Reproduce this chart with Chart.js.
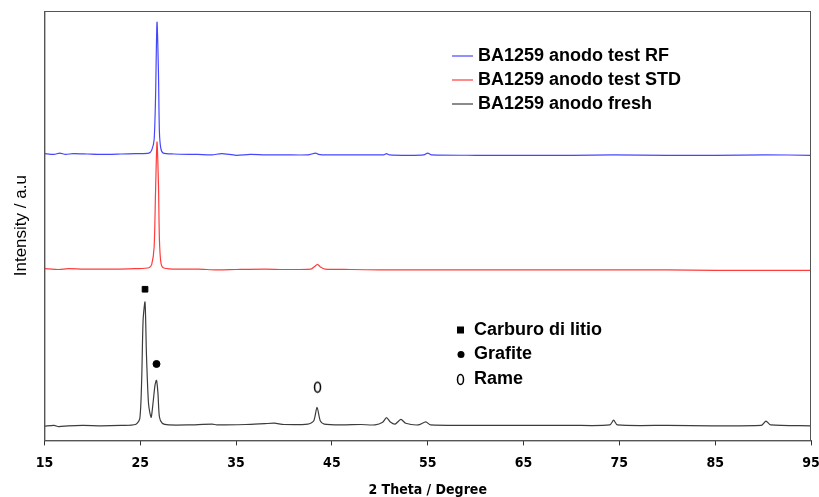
<!DOCTYPE html>
<html>
<head>
<meta charset="utf-8">
<script src="https://cdn.jsdelivr.net/npm/chart.js@4/dist/chart.umd.min.js"></script>
<style>
  body { margin: 0; background: #fff; }
  canvas { display: block; }
</style>
</head>
<body>
<canvas id="xrdChart" width="819" height="497"></canvas>
<script>
// 2 Theta positions and stacked intensities (a.u., curves offset as in the figure)
const rfTheta  = [15, 16, 16.6, 17.2, 18, 19.5, 21, 23, 24.5, 25.9, 26.2, 26.45, 26.6, 26.75, 26.9, 27.0, 27.15, 27.4, 28.5, 31, 32.5, 33.5, 35, 36.5, 38, 40, 42.5, 43.3, 43.6, 44, 46, 48, 50.4, 50.7, 51, 53, 54.6, 55, 55.4, 60, 65, 70, 74.4, 80, 85, 90.3, 95];
const rfInt    = [66.8, 66.6, 66.9, 66.6, 66.8, 66.7, 66.6, 66.7, 66.8, 66.9, 67.6, 70, 80, 97.4, 86, 72, 68, 66.9, 66.7, 66.6, 66.5, 66.8, 66.4, 66.6, 66.5, 66.5, 66.5, 66.9, 66.6, 66.5, 66.5, 66.5, 66.5, 66.8, 66.5, 66.4, 66.5, 66.9, 66.5, 66.4, 66.4, 66.4, 66.5, 66.4, 66.4, 66.5, 66.4];

const stdTheta = [15, 16.5, 17.5, 19, 21, 23, 24.5, 25.9, 26.2, 26.45, 26.6, 26.75, 26.9, 27.0, 27.15, 27.4, 28.5, 31, 33, 35, 38, 40, 42.8, 43.2, 43.5, 43.8, 44.3, 47, 50, 55, 60, 65, 70, 75, 80, 85, 90, 95];
const stdInt   = [40.0, 39.8, 40.0, 39.9, 39.9, 39.9, 40.0, 40.2, 41, 45, 58, 69.5, 60, 47, 41.5, 40.2, 39.9, 39.9, 39.7, 39.8, 39.9, 39.8, 39.9, 40.5, 41.0, 40.4, 39.9, 39.8, 39.7, 39.7, 39.7, 39.7, 39.7, 39.7, 39.7, 39.6, 39.6, 39.6];

const freshTheta = [15, 16, 16.5, 17.5, 19, 21, 23, 24.5, 24.95, 25.15, 25.3, 25.5, 25.65, 25.85, 26.0, 26.15, 26.35, 26.55, 26.7, 26.85, 27.0, 27.3, 28, 30, 32.5, 33, 36, 38, 39, 40, 42.5, 43.1, 43.45, 43.8, 44.2, 46, 48, 49.5, 50.3, 50.7, 51.1, 51.6, 52.2, 52.7, 54, 54.8, 55.3, 60, 70, 74.0, 74.4, 74.8, 80, 89.8, 90.3, 90.8, 95];
const freshInt   = [3.3, 3.5, 3.2, 3.4, 3.5, 3.4, 3.5, 3.7, 5, 14, 28, 32.2, 20, 9, 6.5, 5.4, 9, 13, 14, 11, 5.5, 4, 3.6, 3.6, 3.8, 3.6, 3.7, 3.9, 4.0, 3.7, 3.8, 4.5, 7.7, 4.5, 3.8, 3.6, 3.7, 3.6, 4.2, 5.3, 4.3, 3.8, 4.9, 4.0, 3.6, 4.3, 3.6, 3.5, 3.5, 3.6, 4.7, 3.6, 3.5, 3.5, 4.5, 3.6, 3.4];

// phase markers above the fresh-sample peaks
const carburoTheta = [25.5], carburoY = [35.2];
const grafiteTheta = [26.7], grafiteY = [17.8];
const rameTheta    = [43.5], rameY    = [12.4];

const xTicks = [15, 25, 35, 45, 55, 65, 75, 85, 95];
const seriesNames = ['BA1259 anodo test RF', 'BA1259 anodo test STD', 'BA1259 anodo fresh'];
const seriesColors = ['rgb(70,70,255)', 'rgb(255,60,60)', 'rgb(60,60,60)'];
const phaseNames = ['Carburo di litio', 'Grafite', 'Rame'];

const narrowBold = { family: '"DejaVu Sans Condensed", "Liberation Sans Narrow", sans-serif', size: 14, weight: 'bold' };

function toPoints(xs, ys) {
  return xs.map((x, i) => ({ x: x, y: ys[i] }));
}

// hollow narrow oval used for the copper marker
function ovalMarker() {
  const c = document.createElement('canvas');
  c.width = 9; c.height = 13;
  const g = c.getContext('2d');
  g.strokeStyle = '#000';
  g.lineWidth = 1.5;
  g.beginPath();
  g.ellipse(4.5, 6.5, 3, 5, 0, 0, Math.PI * 2);
  g.stroke();
  return c;
}
const oval = ovalMarker();

const legendPlugin = {
  id: 'sideLegends',
  afterDraw(chart) {
    const ctx = chart.ctx;
    const a = chart.chartArea;
    ctx.save();
    // box around the plot
    ctx.strokeStyle = '#555';
    ctx.lineWidth = 1;
    ctx.strokeRect(a.left + 0.5, a.top + 0.5, a.right - a.left - 1, a.bottom - a.top);

    ctx.font = 'bold 18px "Liberation Sans", Arial, sans-serif';
    ctx.textBaseline = 'middle';
    ctx.fillStyle = '#000';
    seriesNames.forEach((name, i) => {
      const y = 56 + i * 24;
      ctx.strokeStyle = seriesColors[i];
      ctx.lineWidth = 1.2;
      ctx.beginPath();
      ctx.moveTo(452, y);
      ctx.lineTo(473, y);
      ctx.stroke();
      ctx.fillText(name, 478, y);
    });
    // phase legend
    phaseNames.forEach((name, i) => {
      const y = 330 + i * 24.5;
      ctx.fillStyle = '#000';
      if (i === 0) ctx.fillRect(457, y - 3.5, 7, 7);
      if (i === 1) { ctx.beginPath(); ctx.arc(461, y, 3.5, 0, Math.PI * 2); ctx.fill(); }
      if (i === 2) ctx.drawImage(oval, 456, y - 6);
      ctx.fillText(name, 474, y);
    });
    ctx.restore();
  }
};

new Chart(document.getElementById('xrdChart').getContext('2d'), {
  type: 'line',
  data: {
    datasets: [
      { label: seriesNames[0], data: toPoints(rfTheta, rfInt), borderColor: seriesColors[0], borderWidth: 1.2, pointRadius: 0, tension: 0.25 },
      { label: seriesNames[1], data: toPoints(stdTheta, stdInt), borderColor: seriesColors[1], borderWidth: 1.2, pointRadius: 0, tension: 0.25 },
      { label: seriesNames[2], data: toPoints(freshTheta, freshInt), borderColor: seriesColors[2], borderWidth: 1.2, pointRadius: 0, tension: 0.25 },
      { type: 'scatter', label: phaseNames[0], data: toPoints(carburoTheta, carburoY), pointStyle: 'rect', pointRadius: 4, backgroundColor: '#000', borderColor: '#000' },
      { type: 'scatter', label: phaseNames[1], data: toPoints(grafiteTheta, grafiteY), pointStyle: 'circle', pointRadius: 3.5, backgroundColor: '#000', borderColor: '#000' },
      { type: 'scatter', label: phaseNames[2], data: toPoints(rameTheta, rameY), pointStyle: oval }
    ]
  },
  options: {
    responsive: false,
    animation: false,
    layout: { padding: { left: 11, top: 11, right: 0, bottom: -2 } },
    plugins: {
      legend: { display: false },
      tooltip: { enabled: false }
    },
    scales: {
      x: {
        type: 'linear',
        min: 15, max: 95,
        afterBuildTicks: axis => { axis.ticks = xTicks.map(v => ({ value: v })); },
        afterFit: axis => { axis.paddingRight = 8; axis.paddingLeft = 0; },
        border: { display: true, color: '#555' },
        grid: { drawOnChartArea: false, drawTicks: true, tickLength: 5, color: '#333' },
        ticks: { color: '#000', padding: 10, font: narrowBold },
        title: { display: true, text: '2 Theta / Degree', color: '#000', padding: { top: 0, bottom: 0 }, font: narrowBold }
      },
      y: {
        min: 0, max: 100,
        ticks: { display: false },
        grid: { display: false },
        border: { display: true, color: '#555' },
        title: { display: true, text: 'Intensity / a.u', color: '#000', padding: { top: 0, bottom: 5 }, font: { family: '"Liberation Sans", Arial, sans-serif', size: 17 } }
      }
    }
  },
  plugins: [legendPlugin]
});
</script>
</body>
</html>
